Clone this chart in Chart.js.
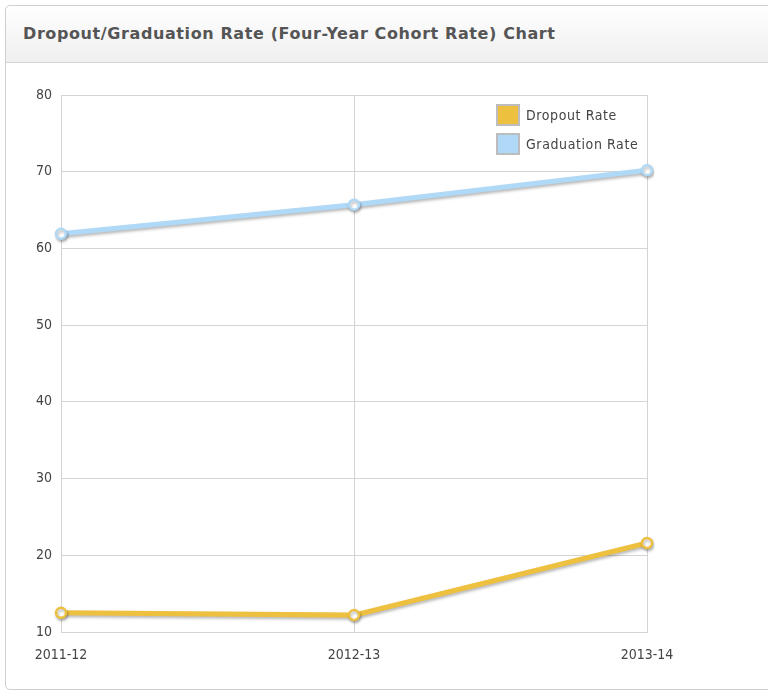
<!DOCTYPE html>
<html>
<head>
<meta charset="utf-8">
<script src="https://cdn.jsdelivr.net/npm/chart.js@4"></script>
<style>
  html, body { margin: 0; padding: 0; background: #fff; }
  body { width: 768px; height: 691px; position: relative; overflow: hidden; }
  .panel {
    position: absolute; left: 5px; top: 5px; width: 780px; height: 683px;
    border: 1px solid #cfcfcf; border-radius: 5px; background: #fff;
  }
  .panel-head {
    height: 56px; border-bottom: 1px solid #d6d6d6; border-radius: 5px 5px 0 0;
    background: linear-gradient(#ffffff, #efefef);
    font-family: "DejaVu Sans", sans-serif;
    font-weight: bold; font-size: 16px; color: #555;
    line-height: 56px; padding-left: 17px; letter-spacing: 0.6px;
  }
  .chart-box { position: absolute; left: 0; top: 63px; width: 768px; height: 625px; }
</style>
</head>
<body>
<div class="panel"><div class="panel-head">Dropout/Graduation Rate (Four-Year Cohort Rate) Chart</div></div>
<div class="chart-box"><canvas id="rateChart" width="768" height="625"></canvas></div>
<script>
const years = ['2011-12', '2012-13', '2013-14']
const dropoutRate = [12.5, 12.2, 21.6]
const graduationRate = [61.9, 65.7, 70.2]
const yTicks = [10, 20, 30, 40, 50, 60, 70, 80]

const dropoutColor = '#EEC03F'
const graduationColor = '#B0D8F7'
const tickFont = { family: "'DejaVu Sans Condensed', 'DejaVu Sans', sans-serif", size: 14 }

// soft drop shadow under each line
const lineShadow = {
  id: 'lineShadow',
  beforeDatasetDraw (chart) {
    const ctx = chart.ctx
    ctx.save()
    ctx.shadowColor = 'rgba(0,0,0,0.28)'
    ctx.shadowBlur = 3
    ctx.shadowOffsetX = 1
    ctx.shadowOffsetY = 2
  },
  afterDatasetDraw (chart) {
    chart.ctx.restore()
  }
}

// boxed legend inside the top-right corner of the plot
const insideLegend = {
  id: 'insideLegend',
  afterDraw (chart) {
    const ctx = chart.ctx
    const x = chart.chartArea.right - 151
    let y = chart.chartArea.top + 9
    ctx.save()
    ctx.font = "14px 'DejaVu Sans Condensed', 'DejaVu Sans', sans-serif"
    ctx.letterSpacing = '0.6px'
    ctx.textBaseline = 'middle'
    chart.data.datasets.forEach(ds => {
      ctx.fillStyle = ds.borderColor
      ctx.fillRect(x, y, 24, 22)
      ctx.strokeStyle = '#bdbdbd'
      ctx.lineWidth = 2
      ctx.strokeRect(x + 1, y + 1, 22, 20)
      ctx.fillStyle = '#444'
      ctx.fillText(ds.label, x + 30, y + 12)
      y += 29
    })
    ctx.restore()
  }
}

new Chart(document.getElementById('rateChart'), {
  type: 'line',
  data: {
    labels: years,
    datasets: [
      {
        label: 'Dropout Rate',
        data: dropoutRate,
        borderColor: dropoutColor,
        backgroundColor: '#fff',
        borderWidth: 5,
        pointRadius: 5,
        pointBorderWidth: 2.5,
        pointBackgroundColor: '#fff',
        pointBorderColor: dropoutColor,
        tension: 0
      },
      {
        label: 'Graduation Rate',
        data: graduationRate,
        borderColor: graduationColor,
        backgroundColor: '#fff',
        borderWidth: 5,
        pointRadius: 5,
        pointBorderWidth: 2.5,
        pointBackgroundColor: '#fff',
        pointBorderColor: graduationColor,
        tension: 0
      }
    ]
  },
  options: {
    responsive: false,
    animation: false,
    layout: { padding: { left: 0, right: 121, top: 32, bottom: 0 } },
    plugins: {
      legend: { display: false },
      tooltip: { enabled: false }
    },
    scales: {
      x: {
        offset: false,
        grid: { color: '#d4d4d4', drawTicks: false },
        border: { color: '#d4d4d4' },
        ticks: { font: tickFont, color: '#444', padding: 15, maxRotation: 0 },
        afterFit (scale) { scale.height = 56 }
      },
      y: {
        min: 10,
        max: 80,
        afterBuildTicks (scale) { scale.ticks = yTicks.map(v => ({ value: v })) },
        grid: { color: '#d4d4d4', drawTicks: false },
        border: { color: '#d4d4d4' },
        ticks: { font: tickFont, color: '#444', padding: 9 },
        afterFit (scale) { scale.width = 61 }
      }
    }
  },
  plugins: [lineShadow, insideLegend]
})
</script>
</body>
</html>
